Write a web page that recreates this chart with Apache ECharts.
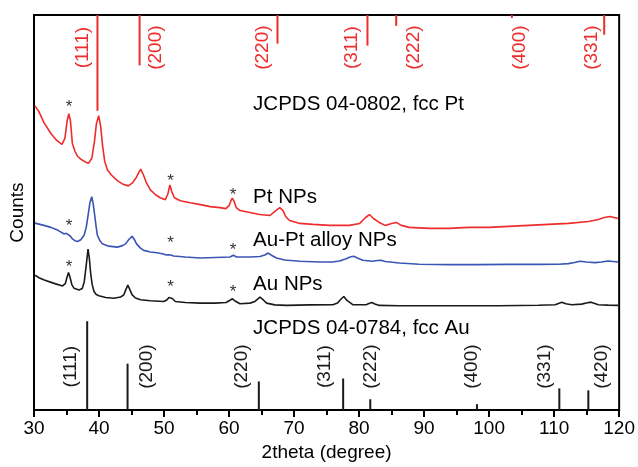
<!DOCTYPE html>
<html>
<head>
<meta charset="utf-8">
<script src="https://cdn.jsdelivr.net/npm/echarts@6/dist/echarts.min.js"></script>
<style>
  html, body { margin: 0; padding: 0; background: #fff; }
  #chart { width: 638px; height: 467px; }
</style>
</head>
<body>
<div id="chart"></div>
<script>
// measured patterns (2theta, counts offset)
const ptTheta = [30.15,30.77,31.53,32.6,33.5,34.3,34.75,35.1,35.36,35.6,35.9,36.3,36.7,37.2,37.5,37.96,38.4,38.9,39.3,39.6,39.95,40.26,40.56,40.87,41.3,41.9,42.86,43.6,44.5,45.15,45.77,46.4,46.84,47.3,47.9,48.7,49.4,50.2,50.6,50.9,51.2,51.6,52.5,54.0,55.6,57.1,58.6,59.5,60.0,60.3,60.5,60.8,61.1,61.7,63.2,64.7,66.3,67.0,67.8,68.3,68.7,69.3,70.9,72.9,75.5,78.5,80.1,81.0,81.6,82.2,83.1,84.0,85.0,85.7,86.5,87.7,90.8,93.8,96.9,100.0,103.0,106.1,109.1,112.2,115.3,116.8,117.7,118.6,119.85];
const ptCounts = [308,302,291,280,273,269,275,293,300,293,270,262,257,254,254,251,250,255,272,290,298,287,267,252,243,238,232,229,227,230,236,244,238,230,223,218,215,213,219,228,221,215,212,210,208,206,205,204,207,212,214.5,211,205,202,200,198,197,201,205,202,196,192,189,188,187,187,189,195,198,194,190,187,189,190,187,185,184,184,185,185,186,187,188,189,191,193,195,196,194];

const alloyTheta = [30.15,31.53,32.6,33.7,34.64,34.97,35.25,35.6,35.92,36.28,36.69,37.2,37.7,38.04,38.31,38.6,38.88,39.1,39.34,39.57,39.75,40.1,40.52,41.48,42.81,43.62,44.08,44.62,45.1,45.46,45.77,46.38,46.88,47.9,48.93,49.9,50.36,50.71,51.05,51.48,53.27,55.56,57.86,60.15,60.66,61.15,63.2,64.75,65.51,66.02,66.58,67.3,68.57,70.87,73.93,75.92,76.99,78.02,78.6,79.18,79.75,80.56,82.09,82.8,83.37,84.03,86.18,89.24,93.83,98.42,103.0,107.6,110.67,112.2,113.12,113.99,114.95,116.28,117.25,118.32,119.85];
const alloyCounts = [189.3,187,185,182,178.3,179,179.3,176,173.3,171.5,170.7,172.5,177,185,197,210,216,209,197,185,177,172,168.3,166,165,166.5,168.3,173,176,172.5,168.3,164,161.7,160,159.3,158,157,157.3,157,156,155,154,154.5,155,156.7,155,155,155.5,157,159,156.5,154,152,150.7,150,150,151,153.3,155,155.7,154,151.7,150.7,151.5,151.7,150.5,149,147.7,147.3,147.3,147.5,147.5,147.7,148.3,149.5,150.7,150,149.3,150,151,150];

const auTheta = [30.15,30.77,31.58,33.1,34.39,34.82,35.1,35.31,35.56,35.82,36.17,36.93,37.42,37.73,38.04,38.31,38.52,38.72,38.95,39.23,39.57,39.99,41.02,42.29,43.32,43.82,44.13,44.43,44.74,45.1,45.61,46.38,47.9,49.94,50.43,50.74,50.97,51.28,51.73,53.27,55.56,57.86,59.54,60.08,60.51,60.92,61.68,63.22,63.98,64.75,65.28,65.77,67.04,68.83,72.4,75.97,76.69,77.15,77.65,78.14,79.03,81.08,81.51,81.94,82.43,83.11,86.18,91.27,98.42,101.48,107.6,110.16,110.67,111.18,111.8,112.7,114.23,114.95,115.67,116.25,116.79,118.32,119.85];
const auCounts = [136.7,134,131.7,128.3,125.7,128,135,139.3,134,127,123.3,121.7,123,130,147,163,153,138.3,127,120,117,115.7,114,113.3,114.5,116.7,122,126.7,122,116.7,113.5,111.7,110.7,110,111.5,114,115,113,110,109,108.3,108.3,109,111,112.7,110.5,107.7,108.3,110,114.3,111.5,108.3,106.5,106,106.5,106.7,108.5,112,115,111,106.7,106.7,108,109,107.5,106,105.7,105.7,105.7,105.7,106.2,106.7,108,109.3,107.7,106.7,107.3,108.5,109.3,108,106.7,106.3,106];

// JCPDS reference sticks
const ptRefTheta = [39.76, 46.24, 67.45, 81.29, 85.71, 103.5, 117.7];
const ptRefInt = [97, 51, 29, 31, 11, 3, 20];
const ptRefHkl = ['(111)', '(200)', '(220)', '(311)', '(222)', '(400)', '(331)'];
const auRefTheta = [38.18, 44.39, 64.58, 77.55, 81.72, 98.13, 110.8, 115.26];
const auRefInt = [90, 47, 29, 32, 11, 6, 22, 20];
const auRefHkl = ['(111)', '(200)', '(220)', '(311)', '(222)', '(400)', '(331)', '(420)'];

// text annotations
const curveNames = ['JCPDS 04-0802, fcc Pt', 'Pt NPs', 'Au-Pt alloy NPs', 'Au NPs', 'JCPDS 04-0784, fcc Au'];
const curveNameAt = [[63.7, 310], [63.7, 215], [63.7, 172], [63.7, 127], [63.7, 83]];
const starAt = [[35.4, 311], [51, 236], [60.6, 222], [35.4, 190], [51, 173], [60.6, 166], [35.4, 149], [51, 128], [60.6, 123]];

// label placement (px offsets from the stick)
const ptLabelDx = [-15, 16, -15, -16, 18, 8, -12];
const auLabelDx = [-16, 19, -17, -18, 0, -5, -15, 13];

const RED = '#ee2c2c';
const BLUE = '#3a55b4';
const BLACK = '#1a1a1a';
const FONT = 'Liberation Sans, Arial, sans-serif';

const pairs = (xs, ys) => xs.map((x, i) => [x, ys[i]]);

function curve(name, xs, ys, color) {
  return {
    name, type: 'line', data: pairs(xs, ys), showSymbol: false,
    lineStyle: { color, width: 1.6 }, itemStyle: { color }, z: 3
  };
}

function sticks(thetas, ints, hkl, dx, fromTop, color, labelY) {
  return {
    type: 'custom',
    data: thetas.map((t, i) => [t, ints[i], i]),
    renderItem(params, api) {
      const t = api.value(0), l = api.value(1), i = api.value(2);
      const a = api.coord([t, fromTop ? 400 : 0]);
      const b = api.coord([t, fromTop ? 400 - l : l]);
      const lp = api.coord([t, labelY]);
      return {
        type: 'group',
        children: [
          { type: 'line', shape: { x1: a[0], y1: a[1], x2: b[0], y2: b[1] },
            style: { stroke: color, lineWidth: 2 } },
          { type: 'text', x: lp[0] + dx[i], y: lp[1], rotation: Math.PI / 2,
            style: { text: hkl[i], fill: color, font: '19px ' + FONT, align: 'center', verticalAlign: 'middle' } }
        ]
      };
    },
    z: 2
  };
}

const chart = echarts.init(document.getElementById('chart'));
chart.setOption({
  animation: false,
  grid: { left: 33, right: 17, top: 15, bottom: 52, show: true, borderColor: '#000', borderWidth: 2 },
  xAxis: {
    type: 'value', min: 30, max: 120, interval: 10,
    name: '2theta (degree)', nameLocation: 'middle', nameGap: 28,
    nameTextStyle: { color: '#000', fontSize: 19, fontFamily: FONT },
    axisLine: { lineStyle: { color: '#000', width: 2 } },
    axisTick: { inside: false, length: 7, lineStyle: { color: '#000', width: 2 } },
    minorTick: { show: true, splitNumber: 2, length: 5, lineStyle: { color: '#000', width: 2 } },
    axisLabel: { color: '#000', fontSize: 19, fontFamily: FONT, margin: 9 },
    splitLine: { show: false }
  },
  yAxis: {
    type: 'value', min: 0, max: 400,
    name: 'Counts', nameLocation: 'middle', nameGap: 7,
    nameTextStyle: { color: '#000', fontSize: 19, fontFamily: FONT },
    axisLine: { show: true, lineStyle: { color: '#000', width: 2 } },
    axisTick: { show: false }, axisLabel: { show: false }, splitLine: { show: false }
  },
  series: [
    curve('Pt NPs', ptTheta, ptCounts, RED),
    curve('Au-Pt alloy NPs', alloyTheta, alloyCounts, BLUE),
    curve('Au NPs', auTheta, auCounts, BLACK),
    sticks(ptRefTheta, ptRefInt, ptRefHkl, ptLabelDx, true, RED, 367),
    sticks(auRefTheta, auRefInt, auRefHkl, auLabelDx, false, BLACK, 44),
    {
      type: 'custom',
      data: curveNameAt.map((p, i) => [p[0], p[1], i]),
      renderItem(params, api) {
        const p = api.coord([api.value(0), api.value(1)]);
        return { type: 'text', x: p[0], y: p[1],
          style: { text: curveNames[api.value(2)], fill: '#000', font: '20.5px ' + FONT, align: 'left', verticalAlign: 'middle' } };
      },
      z: 4
    },
    {
      type: 'custom',
      data: starAt,
      renderItem(params, api) {
        const p = api.coord([api.value(0), api.value(1)]);
        return { type: 'text', x: p[0], y: p[1] + 4,
          style: { text: '*', fill: '#333', font: '17px ' + FONT, align: 'center', verticalAlign: 'middle' } };
      },
      z: 4
    }
  ]
});
</script>
</body>
</html>
